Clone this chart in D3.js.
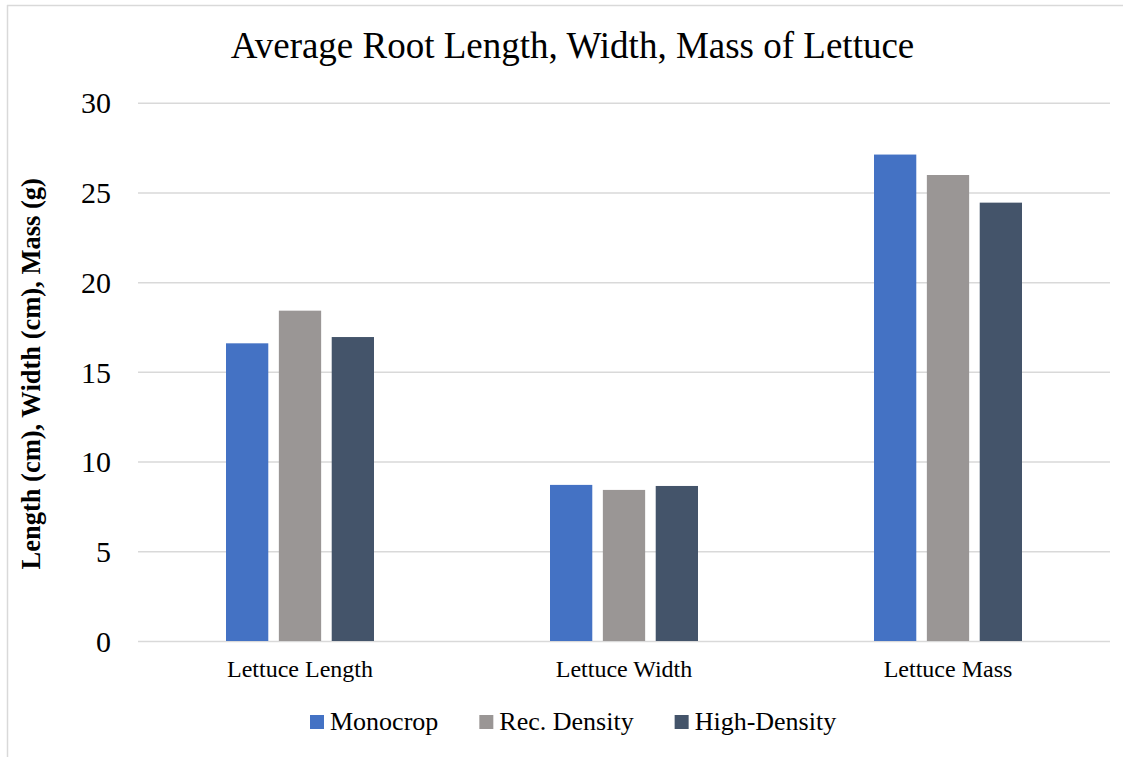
<!DOCTYPE html>
<html>
<head>
<meta charset="utf-8">
<script src="https://cdn.jsdelivr.net/npm/d3@7"></script>
<style>
  html, body { margin: 0; padding: 0; background: #fff; }
  svg { display: block; }
  text { font-family: "Liberation Serif", "Times New Roman", serif; fill: #000; }
</style>
</head>
<body>
<svg id="chart" width="1133" height="757"></svg>
<script>
// Chart data
const categories = ["Lettuce Length", "Lettuce Width", "Lettuce Mass"];
const seriesNames = ["Monocrop", "Rec. Density", "High-Density"];
const monocrop = [16.59, 8.70, 27.11];
const recDensity = [18.41, 8.42, 25.97];
const highDensity = [16.94, 8.64, 24.43];
const yTicks = [0, 5, 10, 15, 20, 25, 30];
const seriesColors = ["#4472C4", "#9A9695", "#44546A"];

const seriesValues = [monocrop, recDensity, highDensity];

const svg = d3.select("#chart");
const W = 1133, H = 757;

// Outer frame (top and left edges)
svg.append("line").attr("x1", 7).attr("x2", 1123).attr("y1", 5.5).attr("y2", 5.5)
  .attr("stroke", "#D9D9D9").attr("stroke-width", 1.5);
svg.append("line").attr("x1", 7.5).attr("x2", 7.5).attr("y1", 5).attr("y2", H)
  .attr("stroke", "#D9D9D9").attr("stroke-width", 1.5);

const plot = { left: 138, right: 1110, top: 102.7, bottom: 641 };

const x0 = d3.scaleBand().domain(categories).range([plot.left, plot.right]).paddingInner(0).paddingOuter(0);
const groupWidth = 148;
const x1 = d3.scaleBand().domain(seriesNames).range([0, groupWidth]).paddingInner(0.2).paddingOuter(0);
const y = d3.scaleLinear().domain([0, 30]).range([plot.bottom, plot.top]);

// Gridlines
const grid = svg.append("g")
  .attr("transform", `translate(${plot.left},0)`)
  .call(d3.axisLeft(y).tickValues(yTicks).tickSize(-(plot.right - plot.left)).tickFormat(""));
grid.select(".domain").remove();
grid.selectAll(".tick line").attr("stroke", "#D9D9D9").attr("stroke-width", 1.5);

// Y tick labels
const yAxis = svg.append("g")
  .attr("transform", `translate(111,0)`)
  .call(d3.axisLeft(y).tickValues(yTicks).tickSize(0).tickPadding(0).tickFormat(d3.format("d")));
yAxis.select(".domain").remove();
yAxis.selectAll(".tick text")
  .style("font-family", '"Liberation Serif", serif')
  .style("font-size", "30px").attr("fill", "#000").attr("dy", "0.34em");

// Bars
const groups = svg.append("g").selectAll("g")
  .data(categories)
  .join("g")
  .attr("transform", d => `translate(${x0(d) + (x0.bandwidth() - groupWidth) / 2},0)`);

groups.selectAll("rect")
  .data((c, ci) => seriesNames.map((s, si) => ({ s, v: seriesValues[si][ci], color: seriesColors[si] })))
  .join("rect")
  .attr("x", d => x1(d.s))
  .attr("width", x1.bandwidth())
  .attr("y", d => y(d.v))
  .attr("height", d => y(0) - y(d.v))
  .attr("fill", d => d.color);

// Category labels
const xAxis = svg.append("g")
  .attr("transform", `translate(0,${plot.bottom})`)
  .call(d3.axisBottom(x0).tickSize(0).tickPadding(0));
xAxis.select(".domain").remove();
xAxis.selectAll(".tick text")
  .style("font-family", '"Liberation Serif", serif')
  .style("font-size", "24px").attr("fill", "#000")
  .attr("dy", null).attr("y", 36);

// Title
svg.append("text")
  .attr("x", 572.5).attr("y", 58)
  .attr("text-anchor", "middle")
  .style("font-size", "37px")
  .text("Average Root Length, Width, Mass of Lettuce");

// Y-axis title
svg.append("text")
  .attr("transform", `translate(40,${(plot.top + plot.bottom) / 2 + 2}) rotate(-90)`)
  .attr("text-anchor", "middle")
  .style("font-size", "26.5px").style("font-weight", "bold")
  .text("Length (cm), Width (cm), Mass (g)");

// Legend
const legend = svg.append("g");
let lx = 310;
seriesNames.forEach((name, i) => {
  const item = legend.append("g").attr("transform", `translate(${lx},0)`);
  item.append("rect").attr("x", 0).attr("y", 715).attr("width", 14).attr("height", 14)
    .attr("fill", seriesColors[i]);
  const t = item.append("text").attr("x", 20).attr("y", 730)
    .style("font-size", "26px").text(name);
  lx += 20 + t.node().getComputedTextLength() + 41;
});
</script>
</body>
</html>
